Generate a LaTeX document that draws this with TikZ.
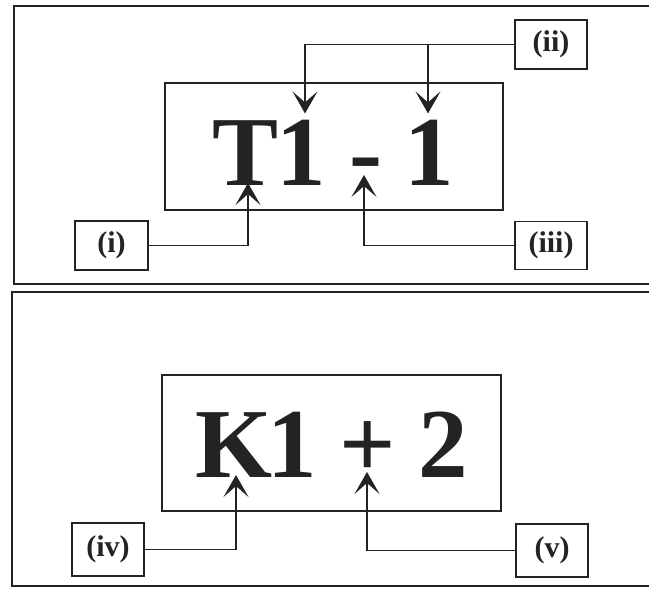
\documentclass[tikz,border=0pt]{standalone}
\usepackage{fontspec}
\setmainfont{Liberation Serif}
\usetikzlibrary{arrows.meta}
\definecolor{inkc}{RGB}{35,35,35}
\begin{document}
\begin{tikzpicture}[x=1pt,y=-1pt,
  frame/.style={draw=inkc, line width=2.2pt},
  box/.style={draw=inkc, line width=1.8pt, inner sep=0pt},
  lab/.style={draw=inkc, line width=1.6pt, inner sep=0pt, text=inkc,
    font=\fontsize{30}{30}\selectfont\bfseries},
  glyph/.style={inner sep=0pt, anchor=base, text=inkc,
    font=\fontsize{99}{99}\selectfont\bfseries},
  arr/.style={draw=inkc, line width=1.7pt,
    -{Stealth[length=22pt,width=25pt,inset=11pt]}},
]
\useasboundingbox (0,0) rectangle (649,589);
\fill[white] (0,0) rectangle (649,589);
% panels
\draw[frame] (14,6) rectangle (670,284);
\draw[frame] (12,292) rectangle (670,586);
% top panel
\node[box, minimum width=338pt, minimum height=127pt] (box1) at (334,146.5) {};
\node[glyph] (T) at (246,185) {T};
\node[glyph] (one1) at (301,185) {1};
\node[glyph] (hy) at (366,185) {-};
\node[glyph] (one2) at (429,185) {1};
\node[lab, minimum width=73pt, minimum height=49pt] (li) at (111.5,245.5) {(i)};
\node[lab, minimum width=72pt, minimum height=49pt] (lii) at (551,44.5) {(ii)};
\node[lab, minimum width=72pt, minimum height=48pt] (liii) at (551,245.5) {(iii)};
\draw[arr] (li.east) -| ([xshift=2pt,yshift=2pt]T.base);
\draw[arr] (liii.west) -| ([xshift=-2pt,yshift=10pt]hy.base);
\draw[arr] (lii.west) -| ([xshift=4pt,yshift=6pt]one1.north);
\draw[arr] ([xshift=-1pt]lii.west -| one2.north) -- ([xshift=-1pt,yshift=6pt]one2.north);
% bottom panel
\node[box, minimum width=339pt, minimum height=136pt] (box2) at (331.5,443) {};
\node[glyph] (K) at (234,477) {K};
\node[glyph] (one3) at (292,477) {1};
\node[glyph] (plus) at (368,477) {+};
\node[glyph] (two) at (443,477) {2};
\node[lab, minimum width=72pt, minimum height=53pt] (liv) at (108,549.5) {(iv)};
\node[lab, minimum width=72pt, minimum height=53pt] (lv) at (552,550.5) {(v)};
\draw[arr] (liv.east) -| ([xshift=2pt,yshift=2pt]K.base);
\draw[arr] (lv.west) -| ([xshift=-1pt,yshift=5pt]plus.base);
\end{tikzpicture}
\end{document}
